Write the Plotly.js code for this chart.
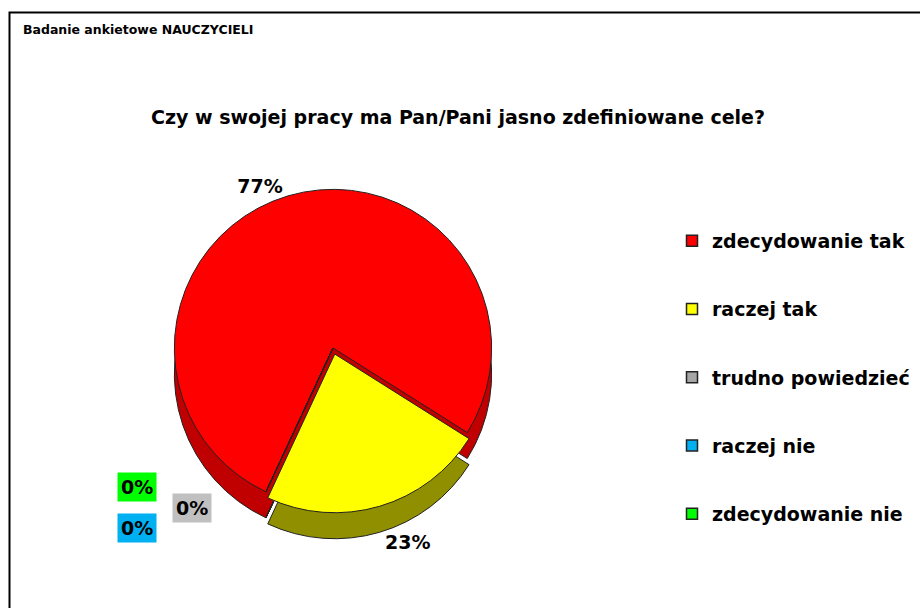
<!DOCTYPE html>
<html><head><meta charset="utf-8">
<script src="https://cdn.plot.ly/plotly-3.0.1.min.js"></script>
<style>html,body{margin:0;padding:0;background:#fff}</style>
</head><body><div id="chart" style="width:920px;height:608px"></div>
<script>
const categories = ['zdecydowanie tak', 'raczej tak', 'trudno powiedzieć', 'raczej nie', 'zdecydowanie nie'];
const percentValues = [77, 23, 0, 0, 0];
const sliceColors = ['#FF0000', '#FFFF00', '#A6A6A6', '#00B0F0', '#00FF00'];
const sideColors = ['#C00000', '#8F8F00', '#6E6E6E', '#00759F', '#00A000'];
const labelBoxColors = ['#FF0000', '#FFFF00', '#C0C0C0', '#00B0F0', '#00FF00'];
const slicePull = [0, 0.04, 0, 0, 0];
const chartTitle = 'Czy w swojej pracy ma Pan/Pani jasno zdefiniowane cele?';
const surveyTitle = 'Badanie ankietowe NAUCZYCIELI';

const W = 920, H = 608;
const px = x => x / W;
const py = y => 1 - y / H;

// pie geometry (pixels)
const cx = 333, cy = 348, r = 165, depth = 26;
const FONT = 'DejaVu Sans, Arial, sans-serif';

const topTextPos = percentValues.map((v, i) => (i === 0 && v > 0) ? 'outside' : 'none');
const sideTextPos = percentValues.map((v, i) => (i === 1 && v > 0) ? 'outside' : 'none');

const common = {
  type: 'pie',
  labels: categories,
  values: percentValues,
  sort: false,
  direction: 'clockwise',
  rotation: 205,
  pull: slicePull,
  texttemplate: '%{value}%',
  textfont: {family: FONT, size: 19, color: '#000', weight: 'bold'},
  showlegend: false,
  hoverinfo: 'label+percent',
  automargin: false
};

const sideTrace = Object.assign({}, common, {
  marker: {colors: sideColors, line: {color: '#222', width: 1}},
  textposition: sideTextPos,
  domain: {x: [px(cx - r), px(cx + r)], y: [py(cy + r + depth), py(cy - r + depth)]}
});
const topTrace = Object.assign({}, common, {
  marker: {colors: sliceColors, line: {color: '#222', width: 1}},
  textposition: topTextPos,
  domain: {x: [px(cx - r), px(cx + r)], y: [py(cy + r), py(cy - r)]}
});

// legend entries (one group per category for spacing)
const legendTraces = categories.map((c, i) => ({
  type: 'scatter', mode: 'markers', x: [null], y: [null],
  name: c, legendgroup: 'g' + i, showlegend: true,
  marker: {symbol: 'square', size: 11, color: sliceColors[i], line: {color: '#222', width: 1.5}},
  hoverinfo: 'skip'
}));

// labels for zero-value categories
const zeroLabelPos = [null, null, [192, 508], [137, 528], [137, 487]];
const annotations = [{
  text: surveyTitle, xref: 'paper', yref: 'paper', x: px(21), y: py(30),
  xanchor: 'left', yanchor: 'middle', showarrow: false,
  font: {family: FONT, size: 12.5, color: '#000', weight: 'bold'}
}];
percentValues.forEach((v, i) => {
  if (v === 0 && zeroLabelPos[i]) {
    annotations.push({
      text: v + '%', xref: 'paper', yref: 'paper',
      x: px(zeroLabelPos[i][0]), y: py(zeroLabelPos[i][1]),
      xanchor: 'center', yanchor: 'middle', showarrow: false,
      bgcolor: labelBoxColors[i], borderpad: 3,
      font: {family: FONT, size: 19, color: '#000', weight: 'bold'}
    });
  }
});

const layout = {
  width: W, height: H,
  margin: {l: 0, r: 0, t: 0, b: 0},
  paper_bgcolor: '#fff', plot_bgcolor: 'rgba(0,0,0,0)',
  title: {
    text: chartTitle, x: px(458), y: py(117), xanchor: 'center', yanchor: 'middle',
    xref: 'paper', yref: 'paper',
    font: {family: FONT, size: 19, color: '#000', weight: 'bold'}
  },
  xaxis: {visible: false}, yaxis: {visible: false},
  showlegend: true,
  legend: {
    x: px(672), y: py(222), xanchor: 'left', yanchor: 'top',
    tracegroupgap: 40.5, traceorder: 'grouped',
    font: {family: FONT, size: 19, color: '#000', weight: 'bold'},
    bgcolor: 'rgba(0,0,0,0)'
  },
  annotations: annotations,
  shapes: [{
    type: 'rect', xref: 'paper', yref: 'paper',
    x0: px(9.5), y0: py(12.5), x1: 1.05, y1: -0.05,
    line: {color: '#000', width: 2}, fillcolor: 'rgba(0,0,0,0)', layer: 'above'
  }]
};

Plotly.newPlot('chart', [sideTrace, topTrace].concat(legendTraces), layout, {displayModeBar: false, staticPlot: true});
</script>
</body></html>
